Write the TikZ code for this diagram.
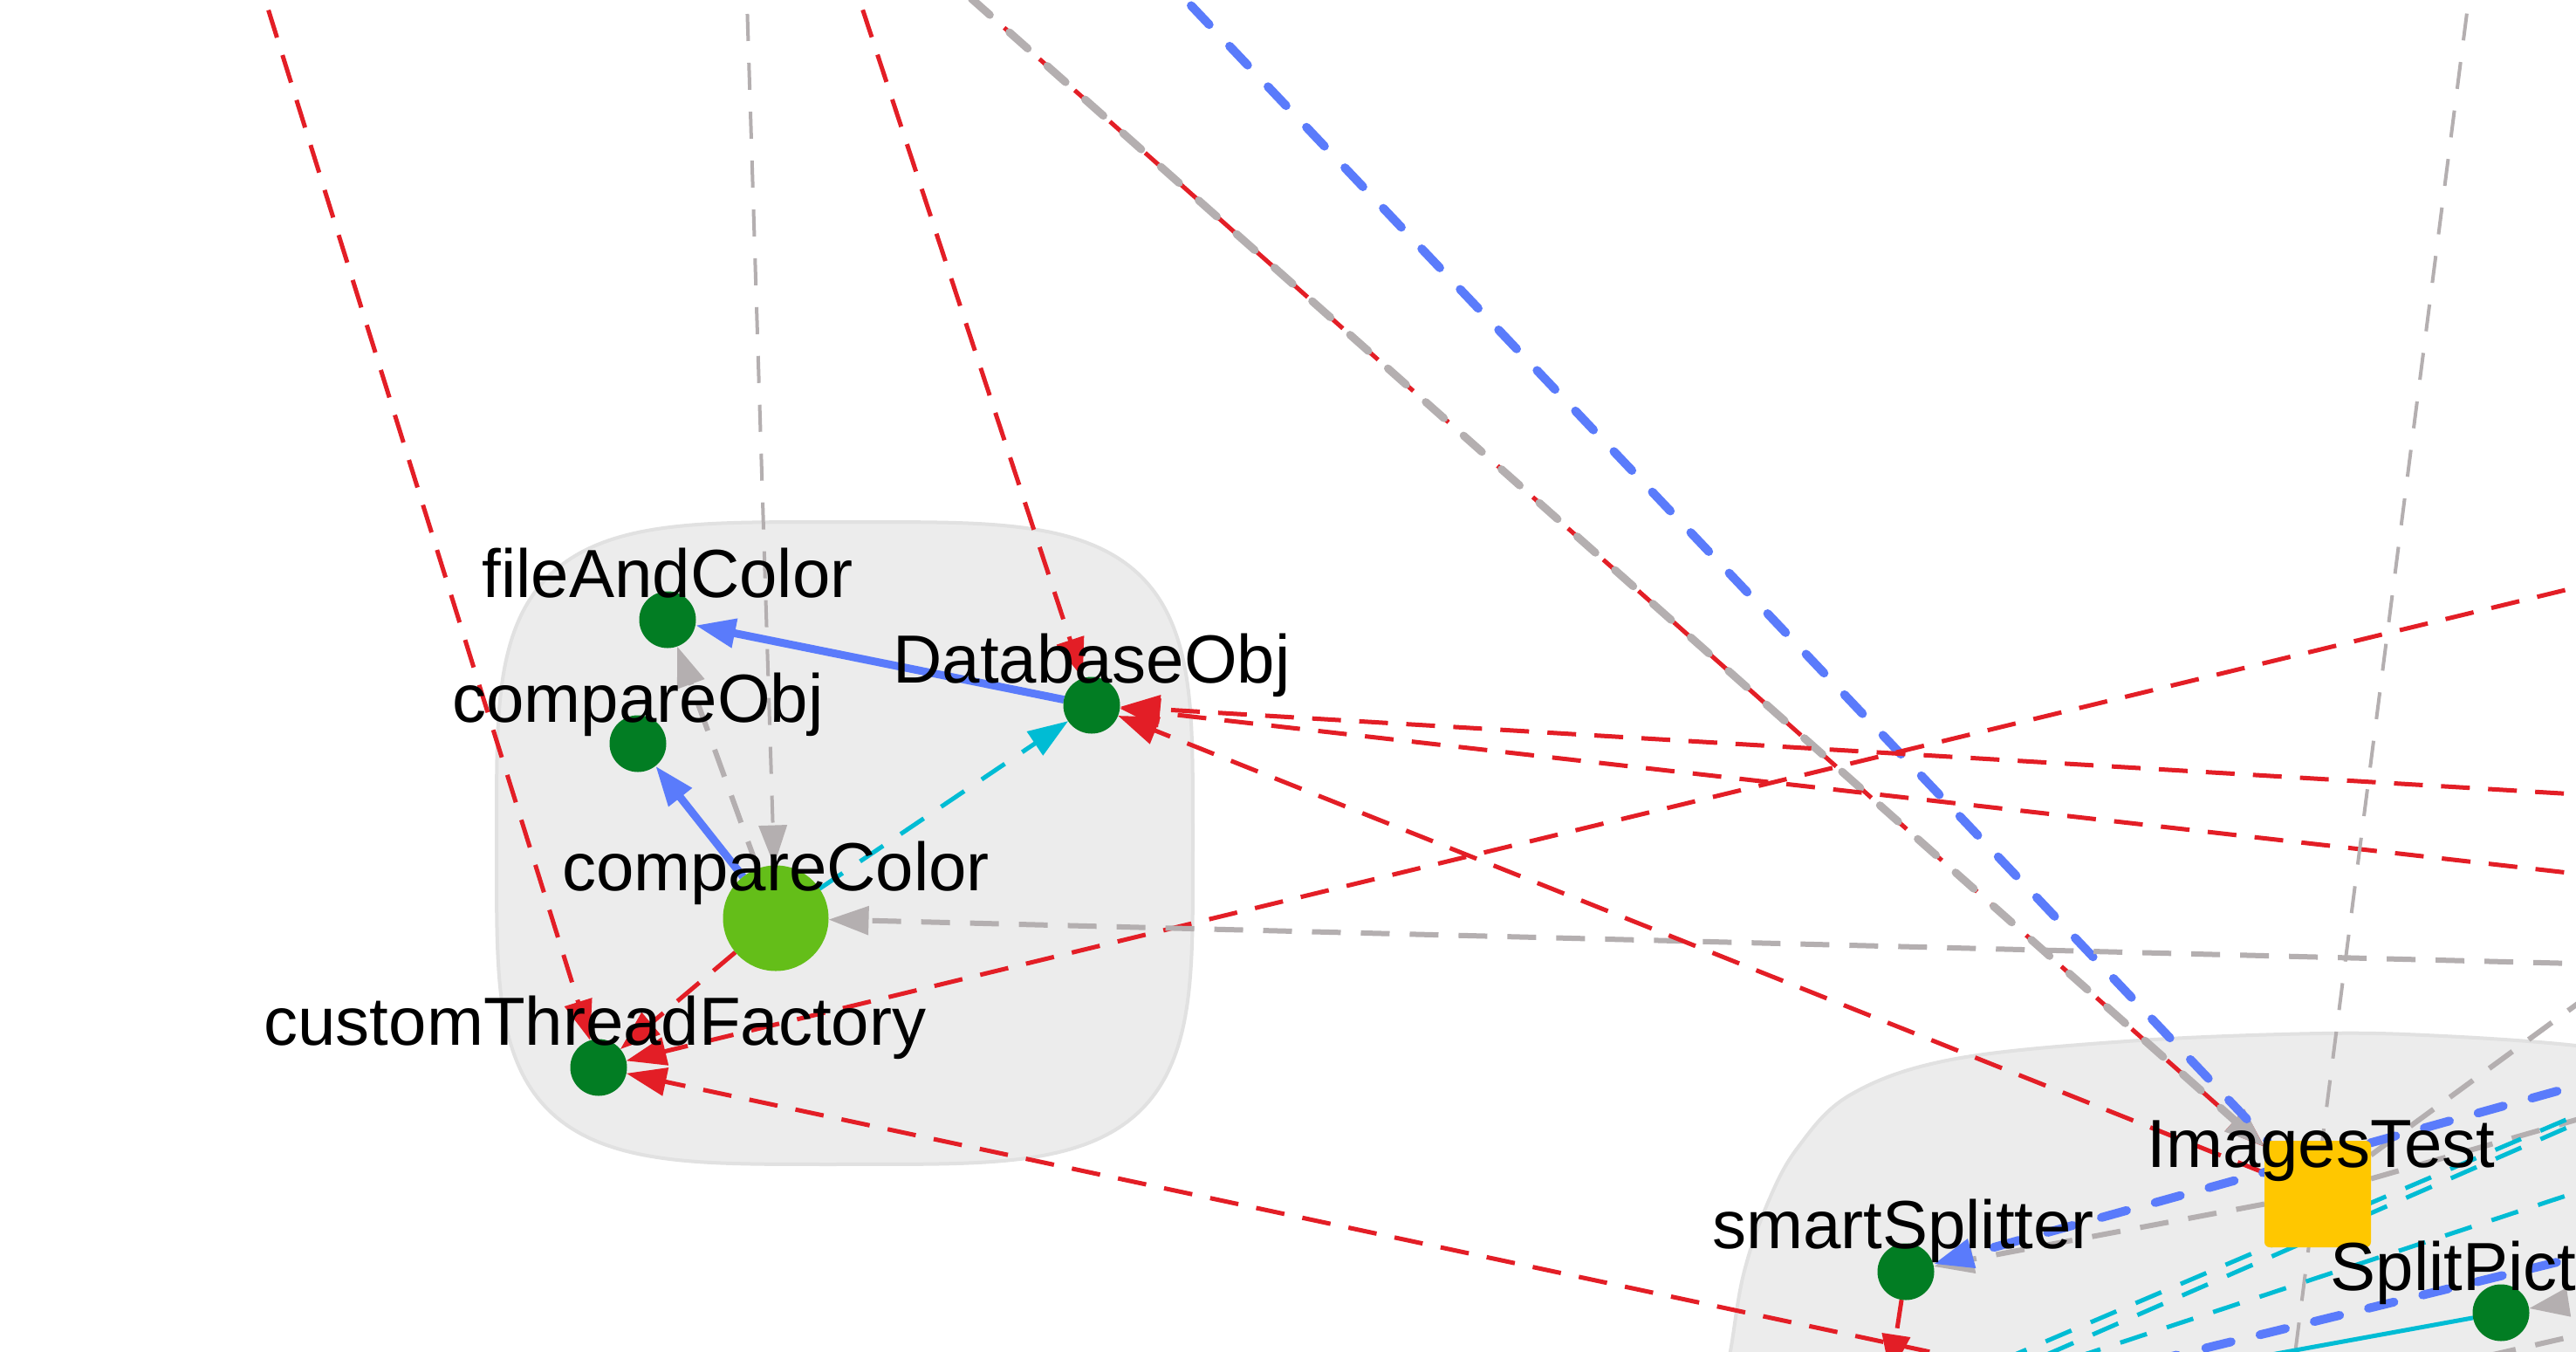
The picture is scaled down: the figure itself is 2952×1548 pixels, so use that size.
\documentclass[tikz,border=0pt]{standalone}
\usepackage{fontspec}
\setmainfont{Liberation Sans}
\usetikzlibrary{arrows.meta,calc}
\pgfdeclarelayer{bg}
\pgfdeclarelayer{edges}
\pgfdeclarelayer{fg}
\pgfsetlayers{bg,edges,main,fg}
\definecolor{cred}{HTML}{E31E26}
\definecolor{cgray}{HTML}{B4AFB0}
\definecolor{cblue}{HTML}{5A7BFB}
\definecolor{ccyan}{HTML}{00BCD4}
\definecolor{dgreen}{HTML}{027D23}
\definecolor{lgreen}{HTML}{64BE19}
\definecolor{cyellow}{HTML}{FFC700}
\definecolor{clfill}{HTML}{ECECEC}
\definecolor{clline}{HTML}{E1E1E1}
\tikzset{
  nd/.style={circle, fill=dgreen, minimum size=6.5mm, inner sep=0pt, outer sep=0pt},
  bignd/.style={circle, fill=lgreen, minimum size=12.1mm, inner sep=0pt, outer sep=0pt},
  sqnd/.style={rectangle, fill=cyellow, minimum size=12.2mm, rounded corners=0.6mm, inner sep=0pt, outer sep=0pt},
  lbl/.style={anchor=base, inner sep=0pt, outer sep=0pt, font=\fontsize{22.2pt}{26pt}\selectfont, text=black},
  arr/.style={-{Triangle[length=4.6mm,width=3.2mm]}},
  redE/.style={draw=cred, line width=0.5mm, dash pattern=on 3.3mm off 2.1mm},
  grayT/.style={draw=cgray, line width=0.4mm, dash pattern=on 3.1mm off 2.5mm},
  grayM/.style={draw=cgray, line width=0.6mm, dash pattern=on 3.3mm off 2.3mm},
  grayK/.style={draw=cgray, line width=0.9mm, line cap=round, dash pattern=on 2.8mm off 3.0mm},
  blueD/.style={draw=cblue, line width=1.0mm, line cap=round, dash pattern=on 3mm off 3.4mm},
  blueS/.style={draw=cblue, line width=0.9mm},
  cyanD/.style={draw=ccyan, line width=0.5mm, dash pattern=on 3.2mm off 2.4mm},
  cyanS/.style={draw=ccyan, line width=0.5mm},
  clus/.style={fill=clfill, draw=clline, line width=0.4mm}
}
\begin{document}
\begin{tikzpicture}[x=0.1mm,y=-0.1mm]
\useasboundingbox (0,0) rectangle (2952,1548);
\begin{pgfonlayer}{bg}
  \fill[white] (0,0) rectangle (2952,1548);
  \path[clus] plot[domain=0:359.5, samples=260, variable=\t]
    ({968 + 399*sign(cos(\t))*sqrt(abs(cos(\t)))}, {966 + 368*sign(sin(\t))*sqrt(abs(sin(\t)))}) -- cycle;
  \path[clus] plot[smooth, tension=0.6] coordinates {(1972,1600) (1983,1548) (1998,1460) (2025,1380) (2060,1315) (2121,1254) (2236,1214) (2437,1193) (2660,1184) (2800,1187) (2952,1198) (3050,1215)} -- (3050,1600) -- cycle;
\end{pgfonlayer}

% nodes
\node[nd] (fac) at (765,710) {};
\node[nd] (cO) at (731,852) {};
\node[nd] (DB) at (1251,808) {};
\node[bignd] (cC) at (889,1052) {};
\node[nd] (cTF) at (686,1223) {};
\node[sqnd] (IT) at (2656,1368) {};
\node[nd] (sS) at (2184,1457) {};
\node[nd] (SP) at (2866,1504) {};

% free ends outside the frame
\coordinate (tA) at (291.5,-40);
\coordinate (tB) at (854.7,-40);
\coordinate (tC) at (971.8,-40);
\coordinate (tD) at (1070,-40);
\coordinate (tE) at (1321,-40);
\coordinate (rF) at (2992,912.4);
\coordinate (rG) at (2992,1005.5);
\coordinate (rH) at (2992,663.3);
\coordinate (rI) at (2992,1105);
\coordinate (bR) at (2264,1560);
\coordinate (bS) at (2166,1575);
\coordinate (rBl) at (2992,1233);
\coordinate (tJ) at (2834,-40);
\coordinate (bJ) at (2625,1590);
\coordinate (rK) at (2992,1122);
\coordinate (rM) at (2992,1271.5);
\coordinate (c1a) at (2992,1261);
\coordinate (c1b) at (2290,1560);
\coordinate (c3a) at (2992,1270);
\coordinate (c3b) at (2327,1560);
\coordinate (c2a) at (2992,1353);
\coordinate (c2b) at (2364,1560);
\coordinate (bb1) at (2992,1431);
\coordinate (bb2) at (2464,1560);
\coordinate (cs) at (2559,1560);
\coordinate (rSP) at (2995,1484);
\coordinate (gb1) at (2992,1521);
\coordinate (gb2) at (2822,1560);

\begin{pgfonlayer}{edges}
  % long lines from outside
  \draw[redE, arr] (tA) -- (cTF);
  \draw[grayT, arr] (tB) -- (cC);
  \draw[redE, arr] (tC) -- (DB);
  \draw[redE, arr] (tD) -- (IT);
  \draw[grayK, arr] (tD) -- (IT);
  \draw[blueD] (tE) -- (IT);
  \draw[redE, arr] (rF) -- (DB);
  \draw[redE, arr] (rG) -- (DB);
  \draw[redE, arr] (rH) -- (cTF);
  \draw[grayM, arr] (rI) -- (cC);
  \draw[redE, arr] (bR) -- (cTF);
  \draw[redE, arr] (IT) -- (DB);
  \draw[grayT] (tJ) -- (bJ);
  \draw[grayM] (IT) -- (rK);
  \draw[grayM] (IT) -- (rM);
  \draw[cyanD] (c1a) -- (c1b);
  \draw[cyanD] (c3a) -- (c3b);
  \draw[cyanD] (c2a) -- (c2b);
  \draw[blueD] (bb1) -- (bb2);
  \draw[cyanS] (SP) -- (cs);
  \draw[grayM, arr] (rSP) -- (SP);
  \draw[grayM] (gb1) -- (gb2);
  % cluster 2
  \draw[grayM, arr] (IT) -- (sS);
  \draw[blueD, arr] (rBl) -- (sS);
  \draw[redE, arr] (sS) -- (bS);
  % cluster 1
  \draw[redE, arr] (cC) -- (cTF);
  \draw[cyanD, arr] (cC) -- (DB);
  \draw[grayM, arr] (cC) -- (fac);
  \draw[blueS, arr] (DB) -- (fac);
  \draw[blueS, arr] (cC) -- (cO);
\end{pgfonlayer}

\begin{pgfonlayer}{fg}
  \node[lbl] (lfac) at ($(fac)+(0,-26)$) {fileAndColor};
  \node[lbl] (lcO) at ($(cO)+(0,-25)$) {compareObj};
  \node[lbl] (lDB) at ($(DB)+(0,-26)$) {DatabaseObj};
  \node[lbl] (lcC) at ($(cC)+(0,-32)$) {compareColor};
  \node[lbl] (lcTF) at ($(cTF)+(-4,-26)$) {customThreadFactory};
  \node[lbl] (lIT) at ($(IT)+(4,-31)$) {ImagesTest};
  \node[lbl] (lsS) at ($(sS)+(-3,-27)$) {smartSplitter};
  \node[lbl] (lSP) at ($(SP)+(2,-26)$) {SplitPicture};
\end{pgfonlayer}
\end{tikzpicture}
\end{document}
